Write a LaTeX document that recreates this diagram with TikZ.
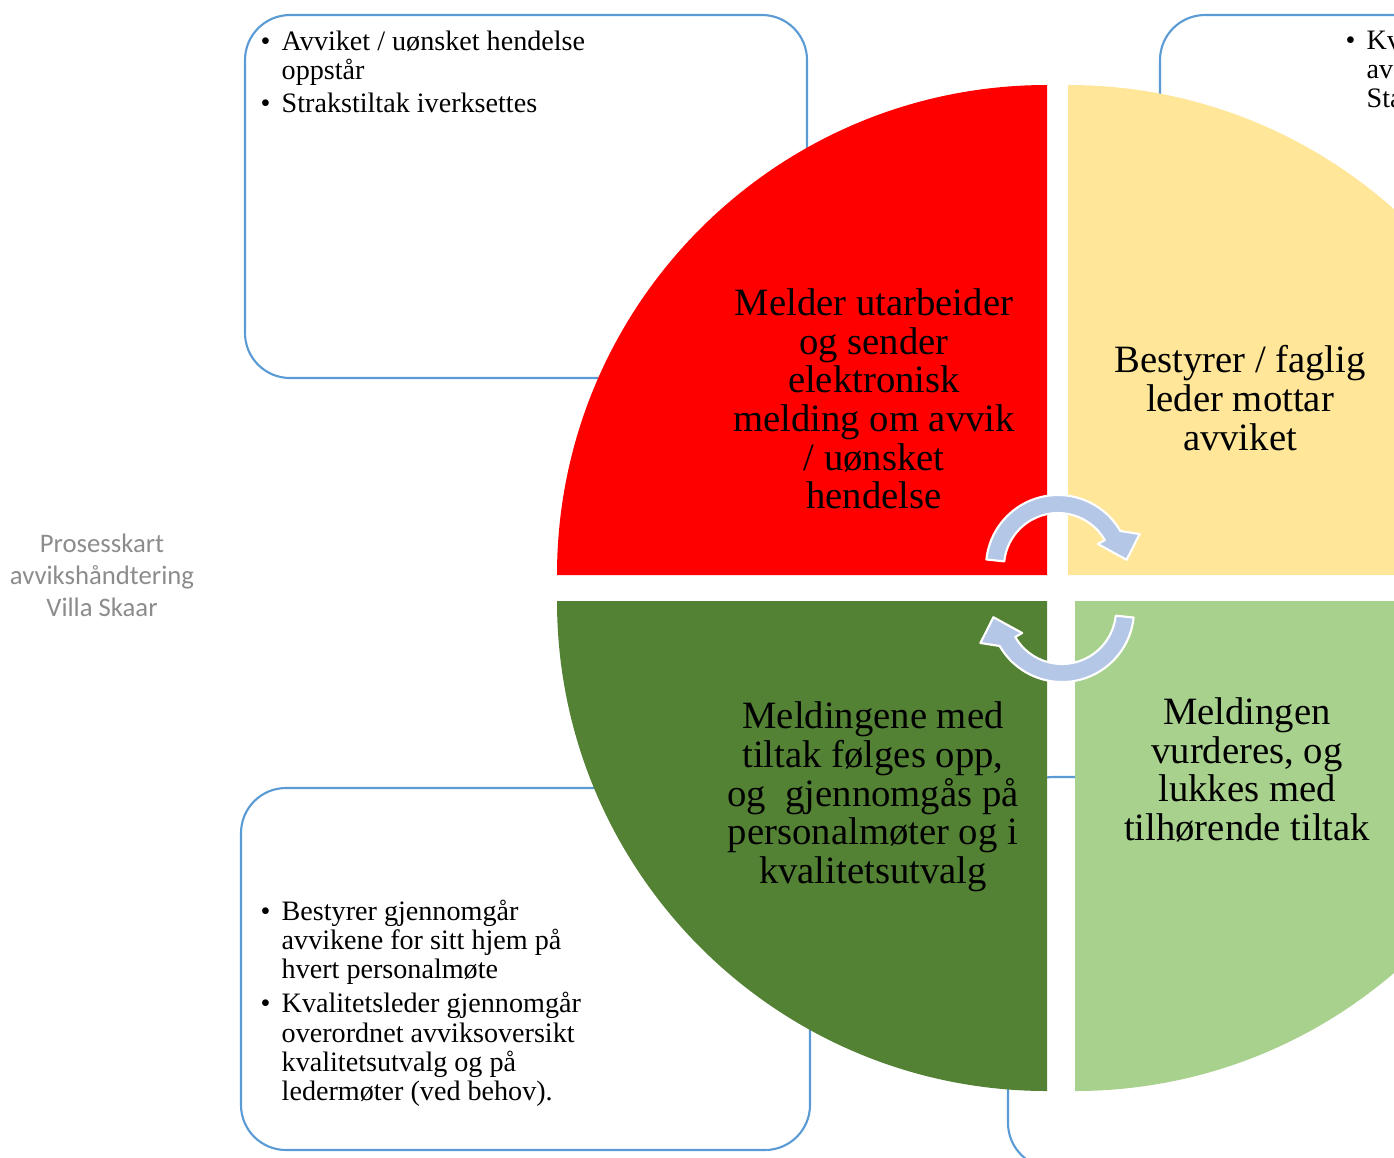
\documentclass[tikz,border=0pt]{standalone}
\usepackage{fontspec}
\setmainfont{Liberation Serif}
\newfontfamily\titlefont{Carlito}
\definecolor{qred}{RGB}{255,0,0}
\definecolor{qyellow}{RGB}{255,230,153}
\definecolor{qdarkgreen}{RGB}{84,130,53}
\definecolor{qlightgreen}{RGB}{169,209,142}
\definecolor{arrowblue}{RGB}{180,199,231}
\definecolor{boxblue}{RGB}{91,155,213}
\definecolor{titlegray}{RGB}{140,140,140}
\newcommand\bul{\makebox[0.21cm][l]{\textbullet}}
\newcommand\ind{\hspace*{0.21cm}}
\begin{document}
\begin{tikzpicture}[x=0.01cm,y=0.01cm,
  framebox/.style={draw=boxblue, line width=0.6pt, rounded corners=0.45cm},
  quadtext/.style={font=\fontsize{11}{11}\selectfont, align=center, inner sep=0pt},
  boxtext/.style={font=\fontsize{8}{8.3}\selectfont, align=left, anchor=north west, inner sep=0pt},
  cyclearrow/.style={fill=arrowblue, draw=white, line width=0.6pt, line join=round}]
  \useasboundingbox (0,0) rectangle (1394,-1157);
  \clip (0,0) rectangle (1394,-1157);
  % text boxes behind the quarters
  \draw[framebox] (245,-15) rectangle (807,-378);
  \draw[framebox] (1160,-15) rectangle (1800,-400);
  \draw[framebox] (241,-788) rectangle (810,-1150);
  \draw[framebox] (1008,-777) rectangle (1800,-1168);
  % the four quarters
  \fill[qred] (1047,-575) -- (557,-575) arc[start angle=180, end angle=90, radius=490] -- cycle;
  \fill[qyellow] (1068,-575) -- (1068,-85) arc[start angle=90, end angle=0, radius=490] -- cycle;
  \fill[qdarkgreen] (1047,-601) -- (557,-601) arc[start angle=180, end angle=270, radius=490] -- cycle;
  \fill[qlightgreen] (1075,-601) -- (1075,-1091) arc[start angle=270, end angle=360, radius=490] -- cycle;
  % cycle arrows
  \begin{scope}[shift={(1058,-567)}]
    \draw[cyclearrow] (174:72) arc[start angle=174, end angle=30, radius=72]
      -- (22:88) -- (6:69) -- (30:46) -- (30:54)
      arc[start angle=30, end angle=174, radius=54] -- cycle;
  \end{scope}
  \begin{scope}[shift={(1062,-610)}]
    \draw[cyclearrow] (-6:72) arc[start angle=-6, end angle=-150, radius=72]
      -- (-158:88) -- (-174:69) -- (-150:46) -- (-150:54)
      arc[start angle=-150, end angle=-6, radius=54] -- cycle;
  \end{scope}
  % quarter texts
  \node[quadtext] (melder) at (874,-399) {Melder utarbeider\\og sender\\elektronisk\\melding om avvik\\/ uønsket\\hendelse};
  \node[quadtext] (mottar) at (1240,-398) {Bestyrer / faglig\\leder mottar\\avviket};
  \node[quadtext] (lukkes) at (1247,-770) {Meldingen\\vurderes, og\\lukkes med\\tilhørende tiltak};
  \node[quadtext] (folges) at (873,-797) {Meldingene med\\tiltak følges opp,\\og\ \ gjennomgås på\\personalmøter og i\\kvalitetsutvalg};
  % box texts
  \node[boxtext] (oppstar) at (260,-30) {\bul Avviket / uønsket hendelse\\\ind oppstår\\[1pt]\bul Strakstiltak iverksettes};
  \node[boxtext] (kvalitet) at (1345,-30) {\bul Kv\\\ind av\\\ind Sta};
  \node[boxtext] (gjennomgar) at (260,-899) {\bul Bestyrer gjennomgår\\\ind avvikene for sitt hjem på\\\ind hvert personalmøte\\[1.5pt]\bul Kvalitetsleder gjennomgår\\\ind overordnet avviksoversikt\\\ind kvalitetsutvalg og på\\\ind ledermøter (ved behov).};
  % title
  \node[font=\titlefont\fontsize{7.6}{9.1}\selectfont, text=titlegray, align=center] (tittel) at (102,-575) {Prosesskart\\avvikshåndtering\\Villa Skaar};
\end{tikzpicture}
\end{document}
